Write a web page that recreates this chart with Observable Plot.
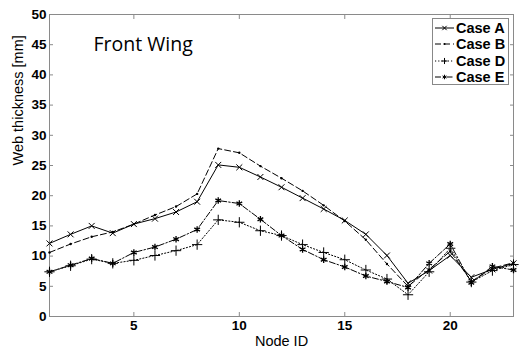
<!DOCTYPE html>
<html>
<head>
<meta charset="utf-8">
<script src="https://cdn.jsdelivr.net/npm/d3@7"></script>
<script src="https://cdn.jsdelivr.net/npm/@observablehq/plot@0.6"></script>
<style>
  body { margin: 0; background: #fff; }
  #chart { position: relative; width: 520px; height: 352px; font-family: "Liberation Sans", Arial, sans-serif; }
  #legend { position: absolute; left: 432px; top: 18px; width: 77px; height: 67px; border: 1px solid #888; background: #fff; box-sizing: border-box; padding-top: 1px; }
  #legend .row { display: flex; align-items: center; height: 16.3px; }
  #legend .row span { font-weight: bold; font-size: 14.5px; color: #000; margin-left: 1px; }
</style>
</head>
<body>
<div id="chart"></div>
<script>
// Node IDs along the front wing and the web thickness [mm] for each case
const nodes = [1, 2, 3, 4, 5, 6, 7, 8, 9, 10, 11, 12, 13, 14, 15, 16, 17, 18, 19, 20, 21, 22, 23];
const caseA = [12.1, 13.6, 15.0, 13.8, 15.3, 16.2, 17.3, 19.0, 25.1, 24.7, 23.1, 21.4, 19.6, 17.8, 15.9, 13.6, 10.1, 5.5, 7.6, 10.1, 6.5, 7.8, 8.8];
const caseB = [10.6, 12.0, 13.2, 14.0, 15.3, 16.8, 18.2, 20.3, 27.8, 27.1, 24.9, 22.9, 20.8, 18.4, 15.8, 12.7, 8.7, 5.0, 7.8, 10.8, 5.8, 8.0, 8.9];
const caseD = [7.4, 8.4, 9.5, 8.8, 9.3, 10.1, 10.9, 11.9, 16.0, 15.6, 14.2, 13.4, 11.9, 10.6, 9.4, 7.7, 6.2, 3.6, 7.4, 11.3, 5.7, 7.6, 8.6];
const caseE = [7.4, 8.5, 9.6, 8.8, 10.6, 11.5, 12.8, 14.4, 19.2, 18.7, 16.1, 13.4, 11.1, 9.4, 8.2, 6.7, 5.8, 4.8, 8.8, 12.0, 5.6, 8.3, 7.7];

const seriesNames = ["Case A", "Case B", "Case D", "Case E"];
const seriesValues = [caseA, caseB, caseD, caseE];
const yTicks = [0, 5, 10, 15, 20, 25, 30, 35, 40, 45, 50];
const xTicks = [5, 10, 15, 20];
const chartTitle = "Front Wing";

// line dash pattern and marker for each case
const styles = {
  "Case A": { dash: null, symbol: "times", r: 2.8, sw: 1 },
  "Case B": { dash: "6,3", symbol: "dot", r: 1.2, sw: 1 },
  "Case D": { dash: "1.2,2", symbol: "plus", r: 3.4, sw: 1 },
  "Case E": { dash: "6,2,1.5,2", symbol: "asterisk", r: 3.1, sw: 1.3 }
};

const rows = seriesNames.map((name, i) => nodes.map((n, j) => ({ name, node: n, value: seriesValues[i][j] })));

const marks = [];
rows.forEach((data, i) => {
  const s = styles[seriesNames[i]];
  marks.push(Plot.line(data, { x: "node", y: "value", stroke: "#000", strokeWidth: 1, strokeDasharray: s.dash }));
});
rows.forEach((data, i) => {
  const s = styles[seriesNames[i]];
  if (s.symbol === "dot") {
    marks.push(Plot.dot(data, { x: "node", y: "value", r: s.r, fill: "#000", stroke: "none" }));
  } else {
    marks.push(Plot.dot(data, { x: "node", y: "value", r: s.r, symbol: s.symbol, stroke: "#000", strokeWidth: s.sw, fill: "none" }));
  }
});

const plot = Plot.plot({
  width: 520,
  height: 352,
  marginLeft: 49,
  marginRight: 7,
  marginTop: 14,
  marginBottom: 36,
  style: { fontFamily: "'Liberation Sans', Arial, sans-serif", background: "#fff", color: "#000" },
  x: { domain: [1, 23] },
  y: { domain: [0, 50] },
  marks: [
    Plot.frame({ stroke: "#8a8a8a" }),
    Plot.axisY({ ticks: yTicks, tickSize: -4, tickPadding: 7, stroke: "#8a8a8a", fontWeight: "bold", fontSize: 13.5, fill: "#000", label: null }),
    Plot.axisY({ anchor: "right", ticks: yTicks, tickSize: -4, stroke: "#8a8a8a", tickFormat: () => "", label: null }),
    Plot.axisX({ ticks: xTicks, tickSize: -4, tickPadding: 8, stroke: "#8a8a8a", fontWeight: "bold", fontSize: 13.5, fill: "#000", label: null }),
    Plot.axisX({ anchor: "top", ticks: xTicks, tickSize: -4, stroke: "#8a8a8a", tickFormat: () => "", label: null }),
    Plot.text(["Web thickness [mm]"], { frameAnchor: "left", dx: -31, rotate: -90, fontSize: 14.5, fill: "#000" }),
    Plot.text(["Node ID"], { frameAnchor: "bottom", dy: 29, fontSize: 14.5, fill: "#000" }),
    Plot.text([chartTitle], { frameAnchor: "top-left", dx: 44, dy: 23, textAnchor: "start", fontSize: 19.5, fontFamily: "'Open Sans', 'Noto Sans', sans-serif", fill: "#000" }),
    ...marks
  ]
});

const chart = document.getElementById("chart");
chart.appendChild(plot);

// legend box in the upper right corner
const legend = document.createElement("div");
legend.id = "legend";
seriesNames.forEach(name => {
  const s = styles[name];
  const row = document.createElement("div");
  row.className = "row";
  const svg = d3.create("svg").attr("width", 22).attr("height", 14);
  svg.append("line").attr("x1", 2).attr("x2", 21).attr("y1", 7).attr("y2", 7)
    .attr("stroke", "#000").attr("stroke-width", 1).attr("stroke-dasharray", s.dash);
  const sym = s.symbol === "dot" ? d3.symbolCircle
    : s.symbol === "times" ? d3.symbolTimes
    : s.symbol === "plus" ? d3.symbolPlus : d3.symbolAsterisk;
  const size = s.symbol === "dot" ? Math.PI * 1.1 * 1.1 : 14;
  svg.append("path").attr("transform", "translate(11.5,7)").attr("d", d3.symbol(sym, size)())
    .attr("fill", s.symbol === "dot" ? "#000" : "none").attr("stroke", s.symbol === "dot" ? "none" : "#000").attr("stroke-width", 1);
  row.appendChild(svg.node());
  const label = document.createElement("span");
  label.textContent = name;
  row.appendChild(label);
  legend.appendChild(row);
});
chart.appendChild(legend);
</script>
</body>
</html>
